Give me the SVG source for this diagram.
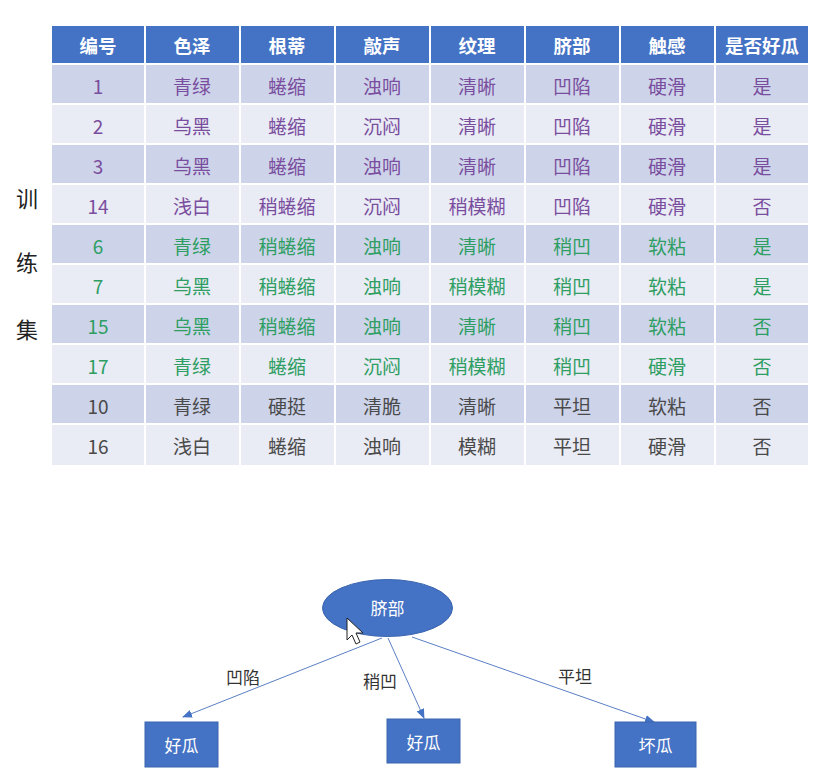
<svg xmlns="http://www.w3.org/2000/svg" width="824" height="782" viewBox="0 0 824 782">
<style>
text{font-family:"Noto Sans CJK SC","Noto Sans",sans-serif;text-anchor:middle;dominant-baseline:central}
.hd{fill:#4472C4}
.hdt{fill:#fff;font-size:18.5px;font-weight:bold}
.ro{fill:#CDD4EA}
.re{fill:#E9EBF5}
.c{font-size:19px}
.p{fill:#7A4E9E}
.g{fill:#2E9E62}
.k{fill:#4A4A4A}
.side{font-size:22px;fill:#222}
.node{fill:#4472C4;stroke:#3A64AE;stroke-width:1}
.nt{fill:#fff;font-size:17px}
.edge{stroke:#5B7FC4;stroke-width:1;fill:none;marker-end:url(#ah)}
.el{font-size:17px;fill:#333}
</style>
<defs>
<marker id="ah" markerWidth="10" markerHeight="8" refX="9" refY="4" orient="auto" markerUnits="userSpaceOnUse">
<path d="M0,0 L10,4 L0,8 z" fill="#4472C4"/>
</marker>
</defs>
<rect width="824" height="782" fill="#fff"/>

<g id="side-label">
<text class="side" x="27" y="197">训</text>
<text class="side" x="27" y="261">练</text>
<text class="side" x="27" y="328">集</text>
</g>

<g id="table">
<rect class="hd" x="52" y="26" width="756" height="37"/>
<rect class="ro" x="52" y="65" width="756" height="38"/>
<rect class="re" x="52" y="105" width="756" height="38"/>
<rect class="ro" x="52" y="145" width="756" height="38"/>
<rect class="re" x="52" y="185" width="756" height="38"/>
<rect class="ro" x="52" y="225" width="756" height="38"/>
<rect class="re" x="52" y="265" width="756" height="38"/>
<rect class="ro" x="52" y="305" width="756" height="38"/>
<rect class="re" x="52" y="345" width="756" height="38"/>
<rect class="ro" x="52" y="385" width="756" height="38"/>
<rect class="re" x="52" y="425" width="756" height="40"/>
<g stroke="#fff" stroke-width="2">
<line x1="145" y1="26" x2="145" y2="466"/>
<line x1="240" y1="26" x2="240" y2="466"/>
<line x1="335" y1="26" x2="335" y2="466"/>
<line x1="430" y1="26" x2="430" y2="466"/>
<line x1="525" y1="26" x2="525" y2="466"/>
<line x1="620" y1="26" x2="620" y2="466"/>
<line x1="715" y1="26" x2="715" y2="466"/>
</g>
<g>
<text class="hdt" x="98" y="45">编号</text>
<text class="hdt" x="192" y="45">色泽</text>
<text class="hdt" x="287" y="45">根蒂</text>
<text class="hdt" x="382" y="45">敲声</text>
<text class="hdt" x="477" y="45">纹理</text>
<text class="hdt" x="572" y="45">脐部</text>
<text class="hdt" x="667" y="45">触感</text>
<text class="hdt" x="762" y="45">是否好瓜</text>
</g>
<g class="c p">
<text x="98" y="85">1</text><text x="192" y="85">青绿</text><text x="287" y="85">蜷缩</text><text x="382" y="85">浊响</text><text x="477" y="85">清晰</text><text x="572" y="85">凹陷</text><text x="667" y="85">硬滑</text><text x="762" y="85">是</text>
<text x="98" y="125">2</text><text x="192" y="125">乌黑</text><text x="287" y="125">蜷缩</text><text x="382" y="125">沉闷</text><text x="477" y="125">清晰</text><text x="572" y="125">凹陷</text><text x="667" y="125">硬滑</text><text x="762" y="125">是</text>
<text x="98" y="165">3</text><text x="192" y="165">乌黑</text><text x="287" y="165">蜷缩</text><text x="382" y="165">浊响</text><text x="477" y="165">清晰</text><text x="572" y="165">凹陷</text><text x="667" y="165">硬滑</text><text x="762" y="165">是</text>
<text x="98" y="205">14</text><text x="192" y="205">浅白</text><text x="287" y="205">稍蜷缩</text><text x="382" y="205">沉闷</text><text x="477" y="205">稍模糊</text><text x="572" y="205">凹陷</text><text x="667" y="205">硬滑</text><text x="762" y="205">否</text>
</g>
<g class="c g">
<text x="98" y="245">6</text><text x="192" y="245">青绿</text><text x="287" y="245">稍蜷缩</text><text x="382" y="245">浊响</text><text x="477" y="245">清晰</text><text x="572" y="245">稍凹</text><text x="667" y="245">软粘</text><text x="762" y="245">是</text>
<text x="98" y="285">7</text><text x="192" y="285">乌黑</text><text x="287" y="285">稍蜷缩</text><text x="382" y="285">浊响</text><text x="477" y="285">稍模糊</text><text x="572" y="285">稍凹</text><text x="667" y="285">软粘</text><text x="762" y="285">是</text>
<text x="98" y="325">15</text><text x="192" y="325">乌黑</text><text x="287" y="325">稍蜷缩</text><text x="382" y="325">浊响</text><text x="477" y="325">清晰</text><text x="572" y="325">稍凹</text><text x="667" y="325">软粘</text><text x="762" y="325">否</text>
<text x="98" y="365">17</text><text x="192" y="365">青绿</text><text x="287" y="365">蜷缩</text><text x="382" y="365">沉闷</text><text x="477" y="365">稍模糊</text><text x="572" y="365">稍凹</text><text x="667" y="365">硬滑</text><text x="762" y="365">否</text>
</g>
<g class="c k">
<text x="98" y="405">10</text><text x="192" y="405">青绿</text><text x="287" y="405">硬挺</text><text x="382" y="405">清脆</text><text x="477" y="405">清晰</text><text x="572" y="405">平坦</text><text x="667" y="405">软粘</text><text x="762" y="405">否</text>
<text x="98" y="445">16</text><text x="192" y="445">浅白</text><text x="287" y="445">蜷缩</text><text x="382" y="445">浊响</text><text x="477" y="445">模糊</text><text x="572" y="445">平坦</text><text x="667" y="445">硬滑</text><text x="762" y="445">否</text>
</g>
</g>

<g id="connectors">
<line class="edge" x1="382" y1="638" x2="183" y2="717"/>
<line class="edge" x1="388" y1="638" x2="424" y2="718"/>
<line class="edge" x1="412" y1="637" x2="654" y2="722"/>
<text class="el" x="243" y="676">凹陷</text>
<text class="el" x="380" y="680">稍凹</text>
<text class="el" x="575" y="675">平坦</text>
</g>

<g id="node-root">
<ellipse class="node" cx="387.5" cy="608" rx="65" ry="28.5"/>
<text class="nt" x="387.5" y="607">脐部</text>
</g>
<g id="node-good1">
<rect class="node" x="145" y="722" width="73" height="45"/>
<text class="nt" x="181.5" y="744">好瓜</text>
</g>
<g id="node-good2">
<rect class="node" x="387" y="719" width="73" height="44"/>
<text class="nt" x="423.5" y="741">好瓜</text>
</g>
<g id="node-bad">
<rect class="node" x="615" y="722" width="81" height="45"/>
<text class="nt" x="655.5" y="744">坏瓜</text>
</g>

<g id="cursor">
<path d="M347,618 L347,640 L352,635 L356,644 L360,642 L356,633 L363,633 Z" fill="#fff" stroke="#222" stroke-width="1"/>
</g>
</svg>
